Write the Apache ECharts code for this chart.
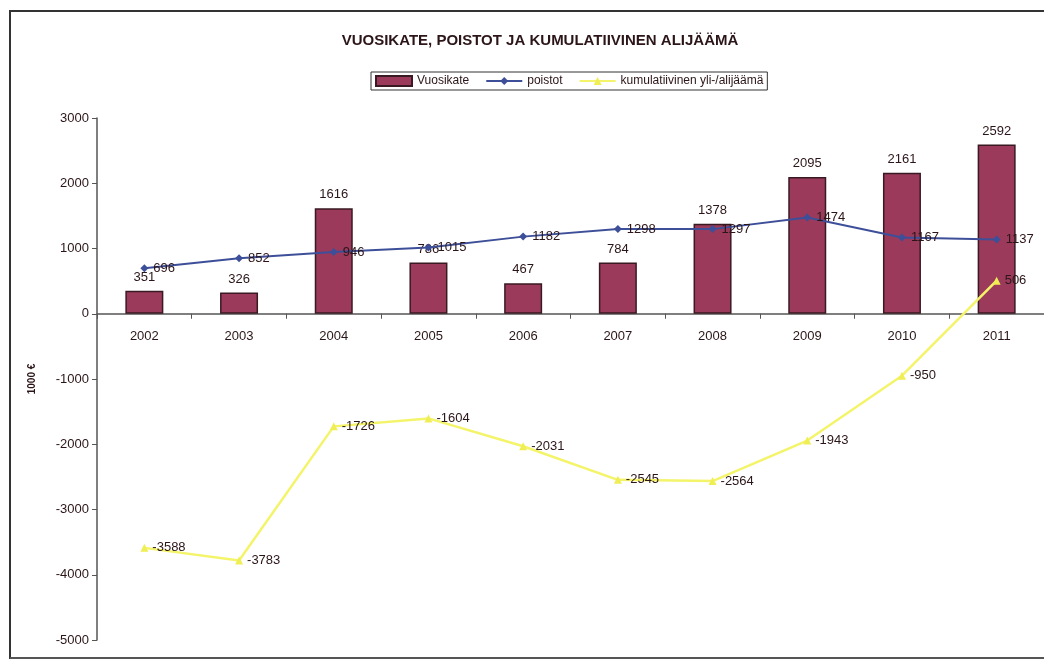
<!DOCTYPE html>
<html>
<head>
<meta charset="utf-8">
<script src="https://cdn.jsdelivr.net/npm/echarts@6/dist/echarts.min.js"></script>
<style>
  html, body { margin: 0; padding: 0; background: #fff; }
  #chart { width: 1044px; height: 662px; }
</style>
</head>
<body>
<div id="chart"></div>
<script>
const years = ['2002', '2003', '2004', '2005', '2006', '2007', '2008', '2009', '2010', '2011']
const vuosikate = [351, 326, 1616, 786, 467, 784, 1378, 2095, 2161, 2592]
const poistot = [696, 852, 946, 1015, 1182, 1298, 1297, 1474, 1167, 1137]
const kumulatiivinen = [-3588, -3783, -1726, -1604, -2031, -2545, -2564, -1943, -950, 506]

const textColor = '#2b1518'
const font = 'Liberation Sans, Arial, sans-serif'

const myChart = echarts.init(document.getElementById('chart'))
myChart.setOption({
  animation: false,
  backgroundColor: '#fff',
  textStyle: { fontFamily: font },
  title: {
    text: 'VUOSIKATE, POISTOT JA KUMULATIIVINEN ALIJÄÄMÄ',
    left: 535,
    textAlign: 'center',
    top: 28,
    textStyle: { fontSize: 15, fontWeight: 'bold', color: textColor, fontFamily: font },
  },
  legend: {
    left: 371,
    top: 72,
    padding: [3, 4],
    borderColor: '#333',
    borderWidth: 1,
    itemGap: 16,
    itemWidth: 36,
    itemHeight: 10,
    textStyle: { fontSize: 12, color: textColor, fontFamily: font },
    data: [
      { name: 'Vuosikate', icon: 'rect' },
      { name: 'poistot' },
      { name: 'kumulatiivinen yli-/alijäämä' },
    ],
  },
  graphic: [
    {
      type: 'polyline',
      shape: { points: [[10, 659], [10, 11], [1050, 11]] },
      style: { stroke: '#333', lineWidth: 2, fill: null },
    },
    {
      type: 'line',
      shape: { x1: 10, y1: 658, x2: 1050, y2: 658 },
      style: { stroke: '#555', lineWidth: 2 },
    },
  ],
  grid: { left: 97, right: -3, top: 118, bottom: 22 },
  xAxis: {
    type: 'category',
    data: years,
    axisLine: { onZero: true, lineStyle: { color: '#555', width: 1.5 } },
    axisTick: { show: true, length: 5, inside: false, lineStyle: { color: '#555' } },
    axisLabel: { fontSize: 13, color: textColor, margin: -310, fontFamily: font },
    splitLine: { show: false },
  },
  yAxis: {
    type: 'value',
    min: -5000,
    max: 3000,
    interval: 1000,
    name: '1000 €',
    nameLocation: 'middle',
    nameGap: 60,
    nameRotate: 90,
    nameTextStyle: { fontSize: 10, fontWeight: 'bold', color: textColor, fontFamily: font },
    axisLine: { show: true, lineStyle: { color: '#555', width: 1.5 } },
    axisTick: { show: true, length: 5, lineStyle: { color: '#555' } },
    axisLabel: { fontSize: 13, color: textColor, margin: 8, fontFamily: font, formatter: v => String(v) },
    splitLine: { show: false },
  },
  series: [
    {
      name: 'Vuosikate',
      type: 'bar',
      data: vuosikate,
      barWidth: 38,
      itemStyle: { color: '#9b3a5b', borderColor: '#3a1a22', borderWidth: 1.5 },
      label: { show: true, position: 'top', distance: 7, fontSize: 13, color: textColor, fontFamily: font },
      z: 2,
    },
    {
      name: 'poistot',
      type: 'line',
      data: poistot,
      symbol: 'diamond',
      symbolSize: 8,
      lineStyle: { color: '#3e4f99', width: 2 },
      itemStyle: { color: '#3e4f99' },
      label: { show: true, position: 'right', distance: 5, fontSize: 13, color: textColor, fontFamily: font },
      z: 3,
    },
    {
      name: 'kumulatiivinen yli-/alijäämä',
      type: 'line',
      data: kumulatiivinen,
      symbol: 'triangle',
      symbolSize: 8,
      lineStyle: { color: '#f4f46a', width: 2.5 },
      itemStyle: { color: '#f0ee55' },
      label: { show: true, position: 'right', distance: 4, fontSize: 13, color: textColor, fontFamily: font },
      z: 3,
    },
  ],
})
</script>
</body>
</html>
